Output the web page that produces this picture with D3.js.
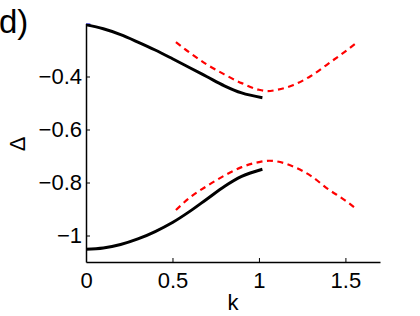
<!DOCTYPE html>
<html>
<head>
<meta charset="utf-8">
<script src="https://cdn.jsdelivr.net/npm/d3@7"></script>
<style>
  body { margin: 0; background: #fff; }
  text { font-family: "Liberation Sans", Arial, sans-serif; }
</style>
</head>
<body>
<svg id="chart" width="420" height="316"></svg>
<script>
// k values and Δ for each branch
const upperSolidK = [0, 0.1, 0.2, 0.3, 0.4, 0.5, 0.6, 0.7, 0.8, 0.9, 1.02];
const upperSolidV = [-0.205, -0.220, -0.242, -0.270, -0.300, -0.333, -0.367, -0.401, -0.435, -0.462, -0.480];

const lowerSolidK = [0, 0.1, 0.2, 0.3, 0.4, 0.5, 0.6, 0.7, 0.8, 0.9, 1.02];
const lowerSolidV = [-1.052, -1.047, -1.034, -1.013, -0.985, -0.951, -0.909, -0.862, -0.815, -0.777, -0.750];

const upperDashK = [0.52, 0.6, 0.7, 0.8, 0.9, 1.0, 1.05, 1.1, 1.2, 1.3, 1.4, 1.5, 1.57];
const upperDashV = [-0.270, -0.310, -0.355, -0.392, -0.425, -0.450, -0.455, -0.451, -0.432, -0.398, -0.352, -0.305, -0.270];

const lowerDashK = [0.52, 0.6, 0.7, 0.8, 0.9, 1.0, 1.06, 1.1, 1.2, 1.3, 1.4, 1.5, 1.57];
const lowerDashV = [-0.904, -0.857, -0.813, -0.774, -0.742, -0.723, -0.718, -0.720, -0.740, -0.775, -0.825, -0.868, -0.904];

const blueK = [0, 0.025];
const blueV = [-0.199, -0.2];

const xTicks = [0, 0.5, 1, 1.5];
const xTickLabels = ["0", "0.5", "1", "1.5"];
const yTicks = [-1, -0.8, -0.6, -0.4];
const yTickLabels = ["\u22121", "\u22120.8", "\u22120.6", "\u22120.4"];

const svg = d3.select("#chart");
const x = d3.scaleLinear().domain([0, 1.7]).range([86, 380]);
const y = d3.scaleLinear().domain([-1.1, -0.2]).range([262, 23.5]);

const zip = (ks, vs) => ks.map((k, i) => ({ k, v: vs[i] }));

svg.append("clipPath").attr("id", "plot")
  .append("rect")
  .attr("x", 86).attr("y", 23.5)
  .attr("width", 294).attr("height", 238.5);

const line = d3.line()
  .x(d => x(d.k))
  .y(d => y(d.v))
  .curve(d3.curveMonotoneX);

const g = svg.append("g").attr("clip-path", "url(#plot)");

g.append("path")
  .attr("d", line(zip(blueK, blueV)))
  .attr("fill", "none").attr("stroke", "#0000ff").attr("stroke-width", 3);

[[upperDashK, upperDashV], [lowerDashK, lowerDashV]].forEach(([ks, vs]) => {
  g.append("path")
    .attr("d", line(zip(ks, vs)))
    .attr("fill", "none")
    .attr("stroke", "#ff0000")
    .attr("stroke-width", 2.2)
    .attr("stroke-dasharray", "6,4.5");
});

[[upperSolidK, upperSolidV], [lowerSolidK, lowerSolidV]].forEach(([ks, vs]) => {
  g.append("path")
    .attr("d", line(zip(ks, vs)))
    .attr("fill", "none")
    .attr("stroke", "#000")
    .attr("stroke-width", 3);
});

// axes
const xAxis = d3.axisBottom(x)
  .tickValues(xTicks)
  .tickFormat((d, i) => xTickLabels[i])
  .tickSizeInner(-4).tickSizeOuter(0).tickPadding(10);
const yAxis = d3.axisLeft(y)
  .tickValues(yTicks)
  .tickFormat((d, i) => yTickLabels[i])
  .tickSizeInner(-4).tickSizeOuter(0).tickPadding(4);

const gx = svg.append("g").attr("transform", "translate(0,262)").call(xAxis);
const gy = svg.append("g").attr("transform", "translate(86,0)").call(yAxis);

[gx, gy].forEach(a => {
  a.select(".domain").attr("stroke", "#000").attr("stroke-width", 1.5);
  a.selectAll(".tick line").attr("stroke", "#000").attr("stroke-width", 1);
  a.selectAll(".tick text")
    .attr("fill", "#000")
    .style("font-size", "22px")
    .style("font-family", "'Liberation Sans', Arial, sans-serif");
});

svg.append("text")
  .attr("x", x(0.85)).attr("y", 310)
  .attr("text-anchor", "middle")
  .style("font-size", "22px")
  .text("k");

svg.append("text")
  .attr("transform", "translate(25,144) rotate(-90)")
  .attr("text-anchor", "middle")
  .style("font-size", "22px")
  .text("Δ");

svg.append("text")
  .attr("x", -1).attr("y", 33)
  .style("font-size", "33px")
  .text("d)");
</script>
</body>
</html>
